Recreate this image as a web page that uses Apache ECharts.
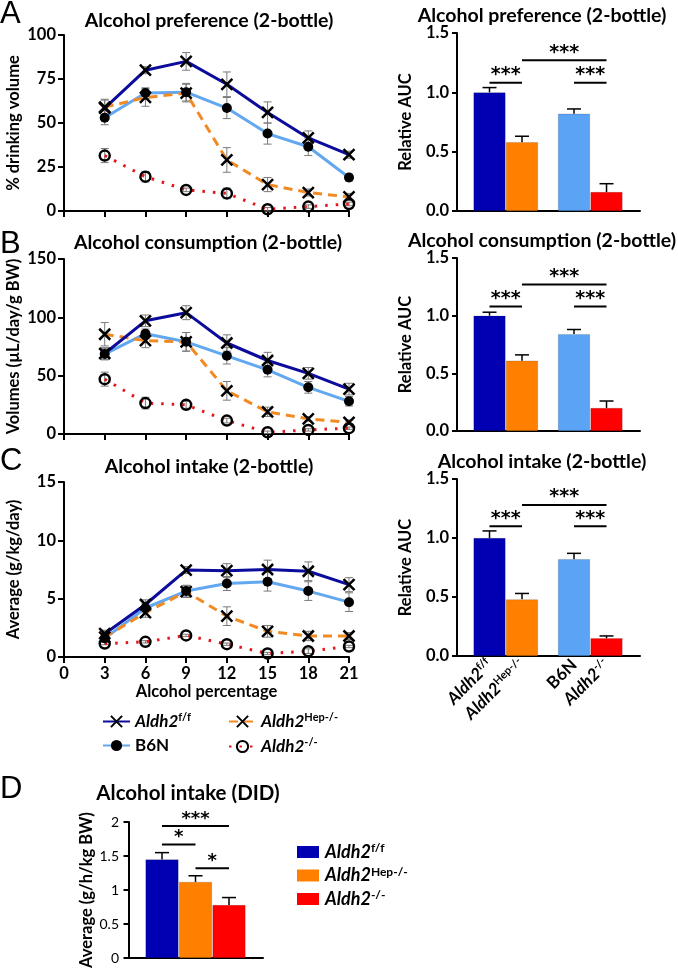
<!DOCTYPE html>
<html>
<head>
<meta charset="utf-8">
<script src="https://cdn.jsdelivr.net/npm/echarts@6/dist/echarts.min.js"></script>
<style>
html, body { margin: 0; padding: 0; background: #fff; }
#chart { width: 678px; height: 970px; }
</style>
</head>
<body>
<div id="chart"></div>
<script>
const pct = [3, 6, 9, 12, 15, 18, 21];

// A - preference (% drinking volume), mean and SEM
const prefFF = [58.5, 80, 85, 72, 56, 41.5, 32];
const prefFFErr = [5, 2, 5, 7, 6, 4, 2];
const prefHep = [59, 64.5, 67, 29, 15, 10.5, 8];
const prefHepErr = [4, 5, 5, 7, 4, 2, 2];
const prefB6N = [53, 67, 67.5, 58.5, 44, 36.5, 19];
const prefB6NErr = [4, 3, 5, 6, 6, 5, 2];
const prefKO = [31.5, 19.5, 12, 10, 1, 2.5, 4];
const prefKOErr = [4, 3, 1, 3, 1, 1, 1];

// B - consumption (uL/day/g BW)
const consFF = [69, 97, 104, 78, 63, 52, 38.5];
const consFFErr = [5, 5, 6, 7, 7, 5, 5];
const consHep = [85.5, 80, 79, 37, 19, 13, 10];
const consHepErr = [10, 6, 8, 8, 4, 2, 2];
const consB6N = [68.5, 86, 79, 67, 55, 40, 28];
const consB6NErr = [5, 4, 8, 7, 6, 5, 4];
const consKO = [47, 26.5, 25, 11.5, 1.5, 3.5, 5];
const consKOErr = [6, 5, 3, 2, 1, 1, 1];

// C - intake (g/kg/day)
const intFF = [2.0, 4.5, 7.45, 7.4, 7.5, 7.35, 6.2];
const intFFErr = [0.3, 0.4, 0.3, 0.6, 0.8, 0.8, 0.6];
const intHep = [1.7, 3.8, 5.6, 3.5, 2.2, 1.8, 1.8];
const intHepErr = [0.3, 0.4, 0.5, 0.8, 0.5, 0.4, 0.3];
const intB6N = [1.6, 4.2, 5.65, 6.3, 6.45, 5.65, 4.7];
const intB6NErr = [0.3, 0.4, 0.5, 0.6, 0.8, 0.8, 0.8];
const intKO = [1.15, 1.3, 1.85, 1.1, 0.3, 0.5, 0.9];
const intKOErr = [0.1, 0.1, 0.1, 0.1, 0.1, 0.2, 0.1];

// relative AUC, order f/f, Hep-/-, B6N, -/-
const aucGroups = ['ff', 'hep', 'b6n', 'ko'];
const aucPref = [1.0, 0.58, 0.82, 0.16];
const aucPrefErr = [0.04, 0.05, 0.04, 0.07];
const aucCons = [1.0, 0.61, 0.84, 0.2];
const aucConsErr = [0.03, 0.05, 0.04, 0.06];
const aucInt = [1.0, 0.48, 0.82, 0.15];
const aucIntErr = [0.06, 0.05, 0.05, 0.02];

// significance brackets: [from group, to group, height, stars]
const sigPref = [[0, 1, 1.08, '***'], [2, 3, 1.08, '***'], [1, 3, 1.27, '***']];
const sigCons = [[0, 1, 1.08, '***'], [2, 3, 1.08, '***'], [1, 3, 1.27, '***']];
const sigInt = [[0, 1, 1.10, '***'], [2, 3, 1.10, '***'], [1, 3, 1.28, '***']];

// D - DID intake
const didGroups = ['ff', 'hep', 'ko'];
const did = [1.45, 1.12, 0.78];
const didErr = [0.1, 0.09, 0.11];
const sigDid = [[0, 2, 1.94, '***'], [0, 1, 1.67, '*'], [1, 2, 1.32, '*']];

// bar slots on the hidden value axes
const aucX = [1, 2, 3.6, 4.6];
const didX = [1, 2, 3];

const FONT = 'Lato';
const lineCol = { ff: '#0c0c9c', hep: '#f28a24', b6n: '#62a8f0', ko: '#e3161c' };
const barCol = { ff: '#0000b2', hep: '#ff8000', b6n: '#5aa3f5', ko: '#ff0000' };
const rich = {
  i: { fontStyle: 'italic', fontWeight: 'bold', fontSize: 17, fontFamily: FONT, color: '#000', lineHeight: 19 },
  s: { fontWeight: 'bold', fontSize: 11, fontFamily: FONT, color: '#000', verticalAlign: 'top', lineHeight: 19 },
  b: { fontWeight: 'bold', fontSize: 17, fontFamily: FONT, color: '#000', lineHeight: 19 }
};
const names = {
  ff: '{i|Aldh2}{s|f/f}',
  hep: '{i|Aldh2}{s|Hep-/-}',
  b6n: '{b|B6N}',
  ko: '{i|Aldh2}{s|-/-}'
};

const grids = [
  { left: 64, top: 35, width: 285, height: 176 },
  { left: 64, top: 259, width: 285, height: 175 },
  { left: 64, top: 482, width: 285, height: 175 },
  { left: 457, top: 33, width: 183, height: 178 },
  { left: 457, top: 258, width: 183, height: 173 },
  { left: 457, top: 479, width: 183, height: 177 },
  { left: 127, top: 822, width: 136, height: 138 }
];

const axisLine = { show: true, lineStyle: { color: '#000', width: 2 } };
const axisTick = { show: true, length: 6, lineStyle: { color: '#000', width: 2 } };
const lbl = { color: '#000', fontWeight: 'bold', fontSize: 16.5, fontFamily: FONT, margin: 8 };
const nameStyle = { color: '#000', fontWeight: 'bold', fontSize: 16.5, fontFamily: FONT };

const xAxes = [];
const yAxes = [];
[0, 1, 2].forEach(g => {
  xAxes.push({
    gridIndex: g, type: 'value', min: 0, max: 21, interval: 3,
    axisLine, axisTick, splitLine: { show: false },
    axisLabel: { ...lbl, show: g === 2 },
    name: g === 2 ? 'Alcohol percentage' : '', nameLocation: 'middle', nameGap: 26, nameTextStyle: nameStyle
  });
});
const lineY = [
  { max: 100, interval: 25, name: '% drinking volume' },
  { max: 150, interval: 50, name: 'Volumes (\u00b5L/day/g BW)' },
  { max: 15, interval: 5, name: 'Average (g/kg/day)' }
];
lineY.forEach((c, g) => {
  yAxes.push({
    gridIndex: g, type: 'value', min: 0, max: c.max, interval: c.interval,
    axisLine, axisTick, splitLine: { show: false }, axisLabel: lbl,
    name: c.name, nameLocation: 'middle', nameGap: 42, nameTextStyle: nameStyle
  });
});
[3, 4, 5].forEach(g => {
  xAxes.push({
    gridIndex: g, type: 'value', min: 0, max: 5.63,
    axisLine, axisTick: { show: false }, splitLine: { show: false },
    axisLabel: {
      show: g === 5, customValues: aucX, rotate: 45, margin: 6, interval: 0,
      formatter: v => names[aucGroups[aucX.indexOf(v)]] || '',
      rich
    }
  });
  yAxes.push({
    gridIndex: g, type: 'value', min: 0, max: 1.5, interval: 0.5,
    axisLine, axisTick: { ...axisTick, length: 5 }, splitLine: { show: false },
    axisLabel: { ...lbl, formatter: v => v.toFixed(1) },
    name: 'Relative AUC', nameLocation: 'middle', nameGap: 43, nameTextStyle: nameStyle
  });
});
xAxes.push({
  gridIndex: 6, type: 'value', min: -0.045, max: 4.015,
  axisLine, axisTick: { show: false }, axisLabel: { show: false }, splitLine: { show: false }
});
yAxes.push({
  gridIndex: 6, type: 'value', min: 0, max: 2, interval: 0.5,
  axisLine, axisTick: { ...axisTick, length: 5 }, splitLine: { show: false },
  axisLabel: { color: '#000', fontSize: 14, fontFamily: FONT, margin: 8 },
  name: 'Average (g/h/kg BW)', nameLocation: 'middle', nameGap: 29, nameTextStyle: nameStyle
});

const xPath = 'path://M0,0L10,10M10,0L0,10';
const look = {
  ff: { symbol: xPath, size: 11, line: { color: lineCol.ff, width: 3, type: 'solid' }, item: { color: '#000', borderColor: '#000', borderWidth: 2.5 } },
  hep: { symbol: xPath, size: 11, line: { color: lineCol.hep, width: 3, type: [9, 6] }, item: { color: '#000', borderColor: '#000', borderWidth: 2.5 } },
  b6n: { symbol: 'circle', size: 10, line: { color: lineCol.b6n, width: 3, type: 'solid' }, item: { color: '#000', borderWidth: 0 } },
  ko: { symbol: 'circle', size: 10, line: { color: lineCol.ko, width: 3, type: [2.5, 8] }, item: { color: 'rgba(255,255,255,0)', borderColor: '#000', borderWidth: 2.5 } }
};

function errRender(cap, color, width, upOnly) {
  return function (params, api) {
    const x = api.value(0), y = api.value(1), e = api.value(2);
    const top = api.coord([x, y + e]);
    const bot = api.coord([x, upOnly ? y : y - e]);
    const style = { stroke: color, lineWidth: width };
    const kids = [
      { type: 'line', shape: { x1: top[0], y1: top[1], x2: bot[0], y2: bot[1] }, style },
      { type: 'line', shape: { x1: top[0] - cap / 2, y1: top[1], x2: top[0] + cap / 2, y2: top[1] }, style }
    ];
    if (!upOnly) kids.push({ type: 'line', shape: { x1: bot[0] - cap / 2, y1: bot[1], x2: bot[0] + cap / 2, y2: bot[1] }, style });
    return { type: 'group', children: kids };
  };
}

function errSeries(g, xs, vals, errs, opts) {
  return {
    type: 'custom', name: 'err', xAxisIndex: g, yAxisIndex: g, silent: true, z: opts.z,
    data: xs.map((x, i) => [x, vals[i], errs[i]]),
    renderItem: errRender(opts.cap, opts.color, opts.width, opts.up)
  };
}

function lineSeries(g, key, vals) {
  const l = look[key];
  return {
    type: 'line', name: key, xAxisIndex: g, yAxisIndex: g, z: 3,
    data: pct.map((p, i) => [p, vals[i]]),
    symbol: l.symbol, symbolSize: l.size, showAllSymbol: true,
    lineStyle: l.line, itemStyle: l.item
  };
}

function barSeries(g, xs, keys, vals, w) {
  return {
    type: 'bar', xAxisIndex: g, yAxisIndex: g, barWidth: w, z: 2,
    data: vals.map((v, i) => ({ value: [xs[i], v], itemStyle: { color: barCol[keys[i]], borderColor: 'rgba(0,0,0,0.25)', borderWidth: 0.6 } }))
  };
}

function sigSeries(g, xs, sig, fs) {
  return {
    type: 'custom', name: 'sig', xAxisIndex: g, yAxisIndex: g, silent: true, z: 5,
    data: sig.map(s => [xs[s[0]], s[2], xs[s[1]]]),
    renderItem(params, api) {
      const a = api.coord([api.value(0), api.value(1)]);
      const b = api.coord([api.value(2), api.value(1)]);
      return {
        type: 'group', children: [
          { type: 'line', shape: { x1: a[0], y1: a[1], x2: b[0], y2: b[1] }, style: { stroke: '#000', lineWidth: 2 } },
          { type: 'text', x: (a[0] + b[0]) / 2, y: a[1] + 2, style: { text: sig[params.dataIndex][3], fill: '#000', fontSize: fs, fontWeight: 'bold', fontFamily: 'DejaVu Sans', align: 'center', verticalAlign: 'bottom' } }
        ]
      };
    }
  };
}

const lineSets = [
  { ff: [prefFF, prefFFErr], hep: [prefHep, prefHepErr], b6n: [prefB6N, prefB6NErr], ko: [prefKO, prefKOErr] },
  { ff: [consFF, consFFErr], hep: [consHep, consHepErr], b6n: [consB6N, consB6NErr], ko: [consKO, consKOErr] },
  { ff: [intFF, intFFErr], hep: [intHep, intHepErr], b6n: [intB6N, intB6NErr], ko: [intKO, intKOErr] }
];

const series = [];
lineSets.forEach((set, g) => {
  ['ko', 'b6n', 'hep', 'ff'].forEach(k => {
    series.push(errSeries(g, pct, set[k][0], set[k][1], { cap: 8, color: '#7a7a7a', width: 1, up: false, z: 2 }));
  });
  ['ko', 'b6n', 'hep', 'ff'].forEach(k => series.push(lineSeries(g, k, set[k][0])));
});

[[aucPref, aucPrefErr, sigPref], [aucCons, aucConsErr, sigCons], [aucInt, aucIntErr, sigInt]].forEach((d, i) => {
  const g = 3 + i;
  series.push(barSeries(g, aucX, aucGroups, d[0], 32));
  series.push(errSeries(g, aucX, d[0], d[1], { cap: 14, color: '#000', width: 1.5, up: true, z: 1 }));
  series.push(sigSeries(g, aucX, d[2], 19));
});

series.push(barSeries(6, didX, didGroups, did, 33));
series.push(errSeries(6, didX, did, didErr, { cap: 14, color: '#000', width: 1.5, up: true, z: 1 }));
series.push(sigSeries(6, didX, sigDid, 18));

function txt(text, x, y, size, weight, align) {
  return { type: 'text', x, y, style: { text, fill: '#000', fontSize: size, fontWeight: weight, fontFamily: FONT, align: align || 'center', verticalAlign: 'middle' } };
}

const graphic = [
  { type: 'text', left: 0, top: -1, style: { text: 'A', fontSize: 31, fontFamily: 'Liberation Sans', fill: '#000' } },
  { type: 'text', left: 0, top: 229, style: { text: 'B', fontSize: 31, fontFamily: 'Liberation Sans', fill: '#000' } },
  { type: 'text', left: 0, top: 446, style: { text: 'C', fontSize: 31, fontFamily: 'Liberation Sans', fill: '#000' } },
  { type: 'text', left: 0, top: 774, style: { text: 'D', fontSize: 31, fontFamily: 'Liberation Sans', fill: '#000' } },
  txt('Alcohol preference (2-bottle)', 209, 21, 19.5, 'bold'),
  txt('Alcohol consumption (2-bottle)', 208, 243, 19.5, 'bold'),
  txt('Alcohol intake (2-bottle)', 209, 467, 19.5, 'bold'),
  txt('Alcohol preference (2-bottle)', 542, 16, 19.5, 'bold'),
  txt('Alcohol consumption (2-bottle)', 542, 241, 19.5, 'bold'),
  txt('Alcohol intake (2-bottle)', 542, 462, 19.5, 'bold'),
  txt('Alcohol intake (DID)', 188, 793, 20.5, 'bold')
];
didGroups.forEach((k, i) => {
  const y = 852 + i * 23.5;
  graphic.push({ type: 'rect', shape: { x: 297, y: y - 6, width: 22, height: 12 }, style: { fill: barCol[k] } });
  graphic.push({ type: 'text', x: 325, y, style: { text: names[k], rich: { ...rich, i: { ...rich.i, fontSize: 18 }, s: { ...rich.s, fontSize: 12 } }, verticalAlign: 'middle', align: 'left' } });
});

const legendText = { color: '#000', rich };
const option = {
  animation: false,
  backgroundColor: '#fff',
  textStyle: { fontFamily: FONT },
  grid: grids,
  xAxis: xAxes,
  yAxis: yAxes,
  legend: [
    { left: 97, top: 707, orient: 'vertical', itemGap: 7, itemWidth: 27, itemHeight: 14, selectedMode: false,
      data: ['ff', 'b6n'], formatter: n => names[n], textStyle: legendText },
    { left: 223, top: 707, orient: 'vertical', itemGap: 7, itemWidth: 27, itemHeight: 14, selectedMode: false,
      data: ['hep', 'ko'], formatter: n => names[n], textStyle: legendText }
  ],
  graphic,
  series
};

const chart = echarts.init(document.getElementById('chart'));
chart.setOption(option);
</script>
</body>
</html>
